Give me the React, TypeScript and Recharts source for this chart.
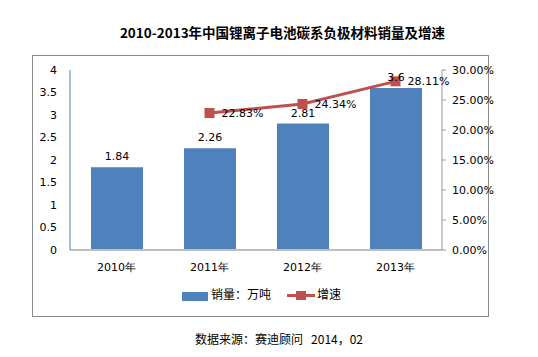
import { ComposedChart, Bar, Line, XAxis, YAxis, LabelList } from "recharts";

const years = ["2010年", "2011年", "2012年", "2013年"];
const sales = [1.84, 2.26, 2.81, 3.6];
const growth = [null, 22.83, 24.34, 28.11];
const leftTicks = [0, 0.5, 1, 1.5, 2, 2.5, 3, 3.5, 4];
const rightTicks = [0, 5, 10, 15, 20, 25, 30];

const data = years.map((y, i) => ({ year: y, sales: sales[i], growth: growth[i] }));

const BLUE = "#4F81BD";
const RED = "#C0504D";
const cjk = "'Noto Sans CJK SC', 'DejaVu Sans', sans-serif";
const num = "'DejaVu Sans', sans-serif";

const SquareDot = (props: any) => {
    const { cx, cy } = props;
    if (cx == null || cy == null) return null;
    return <rect x={cx - 5} y={cy - 5} width={10} height={10} fill={RED} />;
};

export default function App() {
    return (
        <div style={wrapStyle}>
            <div style={titleStyle}>2010-2013年中国锂离子电池碳系负极材料销量及增速</div>
            <div style={boxStyle} />
            <ComposedChart
                width={538}
                height={357}
                data={data}
                margin={{ top: 70, right: 36, left: 10, bottom: 77 }}
                style={{ position: "absolute", left: 0, top: 0 }}
            >
                <XAxis
                    dataKey="year"
                    height={30}
                    tickLine={false}
                    axisLine={{ stroke: "#bfbfbf", strokeWidth: 2 }}
                    tick={{ fontSize: 11, fill: "#000", fontFamily: num }}
                    dy={5}
                />
                <YAxis
                    yAxisId="l"
                    width={60}
                    domain={[0, 4]}
                    ticks={leftTicks}
                    tickLine={false}
                    axisLine={{ stroke: BLUE }}
                    tick={{ fontSize: 11, fill: "#000", fontFamily: num }}
                    tickMargin={7}
                />
                <YAxis
                    yAxisId="r"
                    orientation="right"
                    width={60}
                    domain={[0, 30]}
                    ticks={rightTicks}
                    tickFormatter={(v: number) => v.toFixed(2) + "%"}
                    tickLine={{ stroke: "#999" }}
                    tickSize={4}
                    axisLine={{ stroke: "#999" }}
                    tick={{ fontSize: 11, fill: "#000", fontFamily: num }}
                    tickMargin={6}
                />
                <Bar yAxisId="l" dataKey="sales" fill={BLUE} barSize={52} isAnimationActive={false}>
                    <LabelList
                        dataKey="sales"
                        position="top"
                        offset={7}
                        style={{ fontSize: 11, fill: "#000", fontFamily: num }}
                    />
                </Bar>
                <Line
                    yAxisId="r"
                    type="linear"
                    dataKey="growth"
                    stroke={RED}
                    strokeWidth={3}
                    dot={<SquareDot />}
                    activeDot={false}
                    connectNulls
                    isAnimationActive={false}
                >
                    <LabelList
                        dataKey="growth"
                        position="right"
                        offset={12}
                        formatter={(v: any) => (v == null ? "" : Number(v).toFixed(2) + "%")}
                        style={{ fontSize: 11, fill: "#000", fontFamily: num }}
                    />
                </Line>
            </ComposedChart>
            <div style={{ position: "absolute", left: 182, top: 292, width: 26, height: 9, background: BLUE }} />
            <div style={{ ...legendText, left: 211 }}>销量：万吨</div>
            <div style={{ position: "absolute", left: 287, top: 294, width: 28, height: 3, background: RED }} />
            <div style={{ position: "absolute", left: 296, top: 291, width: 10, height: 9, background: RED }} />
            <div style={{ ...legendText, left: 317 }}>增速</div>
            <div style={sourceStyle}>数据来源：赛迪顾问&nbsp;&nbsp; 2014，02</div>
        </div>
    );
}

const wrapStyle: any = {
    position: "absolute",
    left: 0,
    top: 0,
    width: 538,
    height: 357,
    background: "#fff",
};

const titleStyle: any = {
    position: "absolute",
    left: 0,
    width: 565,
    top: 22,
    textAlign: "center",
    fontFamily: cjk,
    fontWeight: 700,
    fontSize: 13.5,
    lineHeight: "20px",
    color: "#000",
};

const boxStyle: any = {
    position: "absolute",
    left: 32,
    top: 55,
    width: 455,
    height: 260,
    border: "1.5px solid #8c8c8c",
};

const legendText: any = {
    position: "absolute",
    top: 285,
    fontFamily: cjk,
    fontSize: 12,
    lineHeight: "18px",
    color: "#000",
};

const sourceStyle: any = {
    position: "absolute",
    left: 195,
    top: 330,
    fontFamily: cjk,
    fontSize: 12,
    lineHeight: "18px",
    color: "#000",
    whiteSpace: "pre",
};
